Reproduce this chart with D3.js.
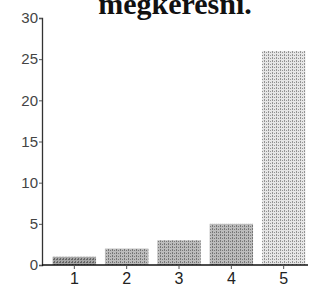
<!DOCTYPE html>
<html>
<head>
<meta charset="utf-8">
<script src="https://cdn.jsdelivr.net/npm/d3@7"></script>
<style>
  body { margin: 0; background: #fff; }
  svg { display: block; }
</style>
</head>
<body>
<svg id="chart" width="312" height="287"></svg>
<script>
const categories = ["1", "2", "3", "4", "5"];
const values = [1, 2, 3, 5, 26];
const yTicks = [0, 5, 10, 15, 20, 25, 30];
const title = "megkeresni.";

const svg = d3.select("#chart");
const margin = { left: 42, right: 4, top: 18, bottom: 22 };
const W = 312, H = 287;

const x = d3.scaleBand()
  .domain(categories)
  .range([margin.left + 8, W - margin.right])
  .paddingInner(0.17)
  .paddingOuter(0.05);

const y = d3.scaleLinear()
  .domain([0, 30])
  .range([H - margin.bottom, margin.top]);

// dithered fills
const defs = svg.append("defs");
function stipple(id, bg, fg, w) {
  const p = defs.append("pattern")
    .attr("id", id)
    .attr("patternUnits", "userSpaceOnUse")
    .attr("width", w).attr("height", 3);
  p.append("rect").attr("width", w).attr("height", 3).attr("fill", bg);
  p.append("rect").attr("x", 0).attr("y", 0).attr("width", 1).attr("height", 2).attr("fill", fg);
  p.append("rect").attr("x", 2).attr("y", 1).attr("width", 1).attr("height", 1).attr("fill", fg);
}
stipple("dark", "#a6a6a6", "#666", 3);
stipple("mid", "#bcbcbc", "#777", 4);
stipple("light", "#e6e6e6", "#939393", 4);
const fills = ["url(#dark)", "url(#mid)", "url(#mid)", "url(#mid)", "url(#light)"];

// title runs off the top edge, as in the source image
svg.append("text")
  .attr("x", 175)
  .attr("y", 14)
  .attr("text-anchor", "middle")
  .attr("font-family", "Liberation Serif, serif")
  .attr("font-weight", "bold")
  .attr("font-size", 30)
  .attr("fill", "#111")
  .text(title);

svg.append("g")
  .selectAll("rect")
  .data(values)
  .join("rect")
  .attr("x", (d, i) => x(categories[i]))
  .attr("y", d => y(d))
  .attr("width", x.bandwidth())
  .attr("height", d => y(0) - y(d))
  .attr("fill", (d, i) => fills[i]);

const yAxis = svg.append("g")
  .attr("transform", "translate(" + margin.left + ",0)")
  .call(d3.axisLeft(y).tickValues(yTicks).tickSize(3).tickPadding(1));
yAxis.select(".domain").attr("stroke", "#333").attr("stroke-width", 1.3);
yAxis.selectAll("line").attr("stroke", "#555");
yAxis.selectAll("text")
  .attr("font-family", "Liberation Sans, Arial, sans-serif")
  .attr("font-size", 15)
  .attr("fill", "#444");

const xAxis = svg.append("g")
  .attr("transform", "translate(0," + y(0) + ")")
  .call(d3.axisBottom(x).tickSize(4).tickPadding(4));
xAxis.select(".domain")
  .attr("d", "M" + margin.left + ",0H" + (W - margin.right))
  .attr("stroke", "#111").attr("stroke-width", 1.5);
xAxis.selectAll("line").attr("stroke", "#555");
xAxis.selectAll("text")
  .attr("font-family", "Liberation Sans, Arial, sans-serif")
  .attr("font-size", 16)
  .attr("fill", "#222");
</script>
</body>
</html>
